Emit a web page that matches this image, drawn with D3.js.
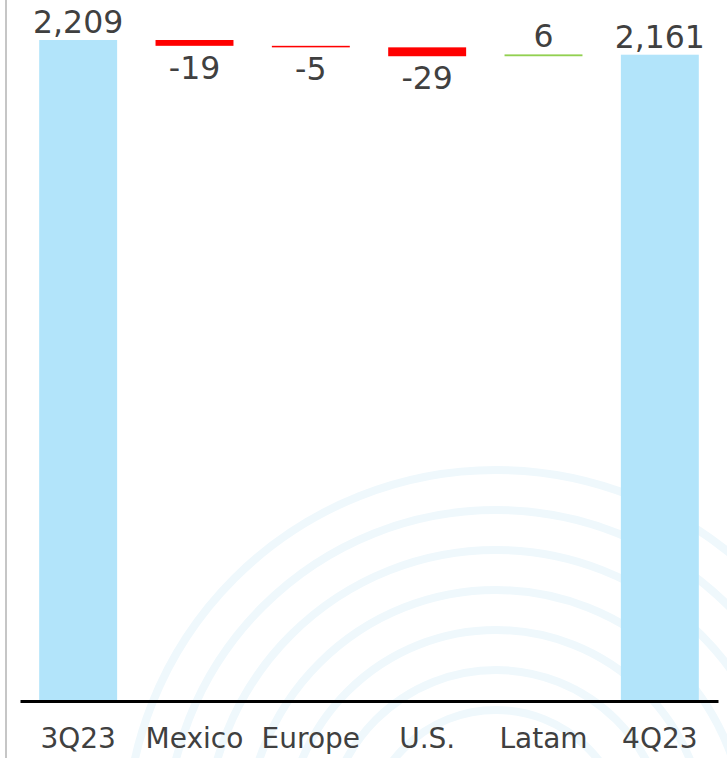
<!DOCTYPE html>
<html>
<head>
<meta charset="utf-8">
<script src="https://cdn.jsdelivr.net/npm/d3@7"></script>
<style>
  body { margin: 0; background: #fff; }
  svg { display: block; font-family: "DejaVu Sans", Verdana, sans-serif; }
</style>
</head>
<body>
<div id="chart"></div>
<script>
// waterfall data
var categories = ["3Q23", "Mexico", "Europe", "U.S.", "Latam", "4Q23"];
var values = [2209, -19, -5, -29, 6, 2161];
var kinds = ["total", "delta", "delta", "delta", "delta", "total"];
var valueLabels = ["2,209", "-19", "-5", "-29", "6", "2,161"];

var width = 727, height = 758;

var svg = d3.select("#chart").append("svg")
    .attr("width", width)
    .attr("height", height);

// faint watermark arcs in the background
var arcRadii = [130, 170, 210, 250, 290, 330, 370];
svg.append("g")
    .selectAll("circle")
    .data(arcRadii)
    .enter().append("circle")
    .attr("cx", 496)
    .attr("cy", 840)
    .attr("r", function(d) { return d; })
    .style("fill", "none")
    .style("stroke", "#eff8fc")
    .style("stroke-width", 8);

// left border line
svg.append("line")
    .attr("x1", 6).attr("x2", 6)
    .attr("y1", 0).attr("y2", height)
    .style("stroke", "#c6c6c6")
    .style("stroke-width", 2);

// running totals for the steps
var rows = [];
var running = 0;
categories.forEach(function(c, i) {
  var v = values[i];
  var start, end;
  if (kinds[i] == "total") {
    start = 0; end = v; running = v;
  } else {
    start = running; end = running + v; running = end;
  }
  rows.push({cat: c, value: v, kind: kinds[i], start: start, end: end, label: valueLabels[i]});
});

var xScale = d3.scaleBand()
    .domain(categories)
    .range([20, 718])
    .paddingInner(0.33)
    .paddingOuter(0.165);

// axis does not start at zero in the source picture
var yScale = d3.scaleLinear()
    .domain([51, 2209])
    .range([701, 40]);

function barColor(d) {
  if (d.kind == "total") { return "#b2e4fa"; }
  return d.value < 0 ? "#ff0000" : "#92d050";
}

svg.selectAll(".bar")
    .data(rows)
    .enter().append("rect")
    .attr("class", "bar")
    .attr("x", function(d) { return xScale(d.cat); })
    .attr("width", xScale.bandwidth())
    .attr("y", function(d) {
      if (d.kind == "total") { return yScale(d.end); }
      return yScale(Math.max(d.start, d.end));
    })
    .attr("height", function(d) {
      if (d.kind == "total") { return yScale.range()[0] - yScale(d.end); }
      return Math.abs(yScale(d.start) - yScale(d.end));
    })
    .style("fill", barColor);

// value labels
svg.selectAll(".val")
    .data(rows)
    .enter().append("text")
    .attr("class", "val")
    .attr("x", function(d) { return xScale(d.cat) + xScale.bandwidth() / 2; })
    .attr("y", function(d) {
      if (d.kind == "delta" && d.value < 0) {
        return yScale(Math.min(d.start, d.end)) + 33;
      }
      return yScale(Math.max(d.start, d.end)) - 7;
    })
    .style("text-anchor", "middle")
    .style("font-size", "31.5px")
    .style("fill", "#404040")
    .text(function(d) { return d.label; });

// x-axis
var xAxis = d3.axisBottom(xScale).tickSize(0).tickSizeOuter(0);
var gx = svg.append("g")
    .attr("transform", "translate(0,701)")
    .call(xAxis);
gx.select(".domain")
    .style("stroke", "#000")
    .style("stroke-width", 3);
gx.selectAll("text")
    .attr("y", 47)
    .attr("dy", 0)
    .style("font-size", "28px")
    .style("font-family", "\"DejaVu Sans\", Verdana, sans-serif")
    .style("fill", "#404040");
</script>
</body>
</html>
